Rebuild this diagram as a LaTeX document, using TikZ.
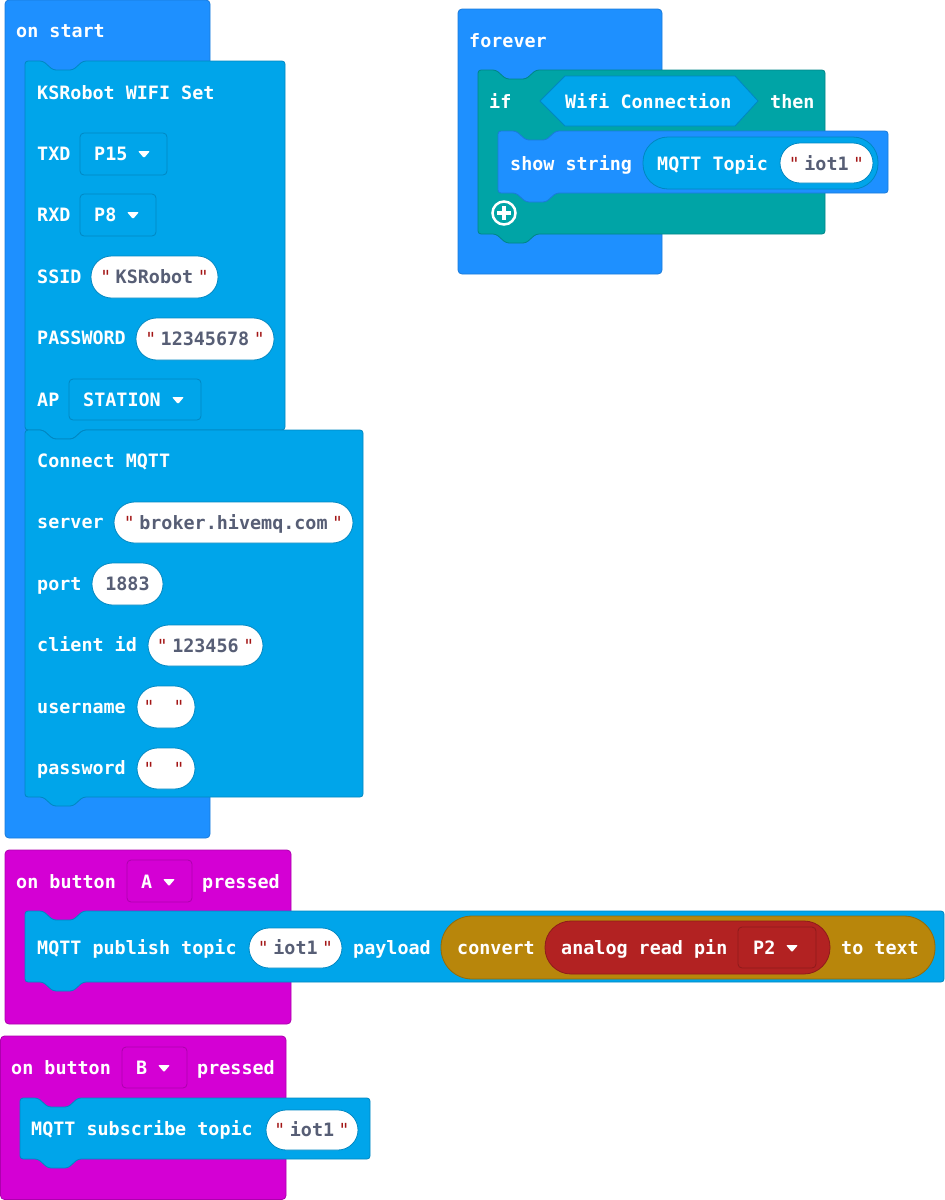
\documentclass[tikz,border=0pt]{standalone}
\usepackage{fontspec}
\newfontfamily\blockmono{DejaVu Sans Mono}[Ligatures=TeXOff]
\usetikzlibrary{calc}

\definecolor{evblue}{HTML}{1E90FF}
\definecolor{evline}{HTML}{1A7AD9}
\definecolor{ksblue}{HTML}{00A5EA}
\definecolor{ksline}{HTML}{0087C2}
\definecolor{ifteal}{HTML}{00A4A6}
\definecolor{ifline}{HTML}{008587}
\definecolor{btnpink}{HTML}{D400D4}
\definecolor{btnline}{HTML}{AD00AD}
\definecolor{cvgold}{HTML}{B8860B}
\definecolor{cvline}{HTML}{936B09}
\definecolor{pinred}{HTML}{B22222}
\definecolor{pinline}{HTML}{8E1B1B}
\definecolor{fieldgrey}{HTML}{575E75}
\definecolor{quotered}{HTML}{A31515}

\newcommand{\blkfont}{\blockmono\bfseries\fontsize{18.4}{20}\selectfont}
\newcommand{\valfont}{\blockmono\bfseries\fontsize{18.4}{20}\selectfont}
\newcommand{\qtmark}{\makebox[6pt][c]{\mdseries\fontsize{18}{19}\selectfont\textcolor{quotered}{"}}}
\newcommand{\qtl}{\qtmark\hspace{7pt}}
\newcommand{\qtr}{\hspace{7pt}\qtmark}
\def\notchblock[#1](#2,#3)(#4,#5){\draw[#1, line width=0.8pt, rounded corners=3pt] (#2,#3) -- ({#2+18},#3) -- ({#2+28},{#3+9}) -- ({#2+48},{#3+9}) -- ({#2+58},#3) -- (#4,#3) -- (#4,#5) -- ({#2+58},#5) -- ({#2+48},{#5+9}) -- ({#2+28},{#5+9}) -- ({#2+18},#5) -- (#2,#5) -- cycle;}
\def\dropmark(#1,#2){\fill[white, rounded corners=1pt] ({#1-6},{#2-3}) -- ({#1+6},{#2-3}) -- (#1,{#2+4}) -- cycle;}

\tikzset{
	lbl/.style={anchor=west, inner sep=0pt, text height=13pt, text depth=0pt, text=white, font=\blkfont},
	val/.style={anchor=center, inner sep=0pt, text height=13pt, text depth=0pt, text=fieldgrey, font=\valfont},
	pillbox/.style={fill=white, draw=#1, line width=0.8pt, rounded corners=20.5pt},
	dropbox/.style={draw=#1, line width=0.8pt, rounded corners=4pt}
}

\begin{document}
\begin{tikzpicture}[x=1pt, y=-1pt]
			%%%%% START %%%%%
			\useasboundingbox (0,0) rectangle (945,1200);
			
			% on start
			\draw[fill=evblue, draw=evline, line width=0.8pt, rounded corners=4pt] (5,0) rectangle (210,838);
			\node[lbl] (onstart) at (16,31) {on start};
			
			\notchblock[fill=ksblue, draw=ksline](25,61)(285,430);
			\node[lbl] (wifiset) at (37,93) {KSRobot WIFI Set};
			
			\node[lbl] (txd) at (37,154) {TXD};
			\draw[dropbox=ksline, fill=ksblue] (80,133) rectangle (167,175);
			\node[lbl] (txdpin) at (94,154) {P15};
			\dropmark(144,154);
			
			\node[lbl] (rxd) at (37,215) {RXD};
			\draw[dropbox=ksline, fill=ksblue] (80,194) rectangle (156,236);
			\node[lbl] (rxdpin) at (94,215) {P8};
			\dropmark(133,215);
			
			\node[lbl] (ssid) at (37,277) {SSID};
			\draw[pillbox=ksline] (91,256) rectangle (218,298);
			\node[val] (ssidval) at (154.5,277) {\qtl KSRobot\qtr};
			
			\node[lbl] (pwd) at (37,338) {PASSWORD};
			\draw[pillbox=ksline] (136,318) rectangle (274,360);
			\node[val] (pwdval) at (205,339) {\qtl 12345678\qtr};
			
			\node[lbl] (ap) at (37,400) {AP};
			\draw[dropbox=ksline, fill=ksblue] (69,379) rectangle (201,420);
			\node[lbl] (apmode) at (83,400) {STATION};
			\dropmark(178,400);
			
			\notchblock[fill=ksblue, draw=ksline](25,430)(363,797);
			\node[lbl] (mqttconn) at (37,461) {Connect MQTT};
			
			\node[lbl] (server) at (37,522) {server};
			\draw[pillbox=ksline] (114,502) rectangle (353,543);
			\node[val] (serverval) at (233.5,522.5) {\qtl broker.hivemq.com\qtr};
			
			\node[lbl] (port) at (37,584) {port};
			\draw[pillbox=ksline] (92,563) rectangle (163,605);
			\node[val] (portval) at (127.5,584) {1883};
			
			\node[lbl] (clientid) at (37,645) {client id};
			\draw[pillbox=ksline] (148,625) rectangle (263,666);
			\node[val] (clientval) at (205.5,645.5) {\qtl 123456\qtr};
			
			\node[lbl] (user) at (37,707) {username};
			\draw[pillbox=ksline] (137,686) rectangle (195,728);
			\node[val] (userval) at (164,707) {\qtl\hspace{10pt}\qtr};
			
			\node[lbl] (pass) at (37,768) {password};
			\draw[pillbox=ksline] (137,748) rectangle (195,789);
			\node[val] (passval) at (164,768.5) {\qtl\hspace{10pt}\qtr};
			
			% forever
			\draw[fill=evblue, draw=evline, line width=0.8pt, rounded corners=4pt] (458,9) rectangle (662,274);
			\node[lbl] (forever) at (469,41) {forever};
			
			\notchblock[fill=ifteal, draw=ifline](478,70)(825,234);
			\node[lbl] (iftxt) at (489,102) {if};
			\draw[fill=ksblue, draw=ksline, line width=0.8pt] (540,101) -- (565,76) -- (735,76) -- (758,101) -- (735,126) -- (565,126) -- cycle;
			\node[lbl] (wificonn) at (565,102) {Wifi Connection};
			\node[lbl] (thentxt) at (770,102) {then};
			
			\notchblock[fill=evblue, draw=evline](498,131)(888,193);
			\node[lbl] (showstr) at (510,164) {show string};
			\draw[fill=ksblue, draw=ksline, line width=0.8pt, rounded corners=25pt] (643,137) rectangle (878,189);
			\node[lbl] (topic) at (657,164) {MQTT Topic};
			\draw[pillbox=ksline, rounded corners=20pt] (780,143) rectangle (873,183);
			\node[val] (topicval) at (826.5,163.5) {\qtl iot1\qtr};
			
			\draw[white, line width=2.5pt] (504,213) circle (11.5);
			\draw[white, line width=3.5pt] (497,213) -- (511,213);
			\draw[white, line width=3.5pt] (504,206) -- (504,220);
			
			% on button A
			\draw[fill=btnpink, draw=btnline, line width=0.8pt, rounded corners=4pt] (5,850) rectangle (291,1024);
			\node[lbl] (btna) at (16,882) {on button};
			\draw[dropbox=btnline, fill=btnpink] (127,860) rectangle (192,902);
			\node[lbl] (btnaname) at (141,882) {A};
			\dropmark(169,882);
			\node[lbl] (presseda) at (202,882) {pressed};
			
			\notchblock[fill=ksblue, draw=ksline](25,911)(944,982);
			\node[lbl] (publish) at (37,948) {MQTT publish topic};
			\draw[pillbox=ksline, rounded corners=20pt] (249,928) rectangle (342,968);
			\node[val] (pubtopic) at (295.5,948) {\qtl iot1\qtr};
			\node[lbl] (payload) at (353,948) {payload};
			
			\draw[fill=cvgold, draw=cvline, line width=0.8pt, rounded corners=31pt] (441,916) rectangle (935,979);
			\node[lbl] (convert) at (457,948) {convert};
			\draw[fill=pinred, draw=pinline, line width=0.8pt, rounded corners=26pt] (545,921) rectangle (830,974);
			\node[lbl] (analog) at (561,948) {analog read pin};
			\draw[dropbox=pinline, fill=pinred] (738,927) rectangle (816,968);
			\node[lbl] (pinname) at (753,948) {P2};
			\dropmark(792,948);
			\node[lbl] (totext) at (841,948) {to text};
			
			% on button B
			\draw[fill=btnpink, draw=btnline, line width=0.8pt, rounded corners=4pt] (0.5,1036) rectangle (286,1199.5);
			\node[lbl] (btnb) at (11,1068) {on button};
			\draw[dropbox=btnline, fill=btnpink] (122,1047) rectangle (187,1088);
			\node[lbl] (btnbname) at (136,1068) {B};
			\dropmark(164,1068);
			\node[lbl] (pressedb) at (197,1068) {pressed};
			
			\notchblock[fill=ksblue, draw=ksline](20,1098)(370,1159);
			\node[lbl] (subscribe) at (31,1129) {MQTT subscribe topic};
			\draw[pillbox=ksline, rounded corners=20pt] (266,1110) rectangle (358,1150);
			\node[val] (subtopic) at (312,1130) {\qtl iot1\qtr};
			
			%%%%% END %%%%%
\end{tikzpicture}
\end{document}
